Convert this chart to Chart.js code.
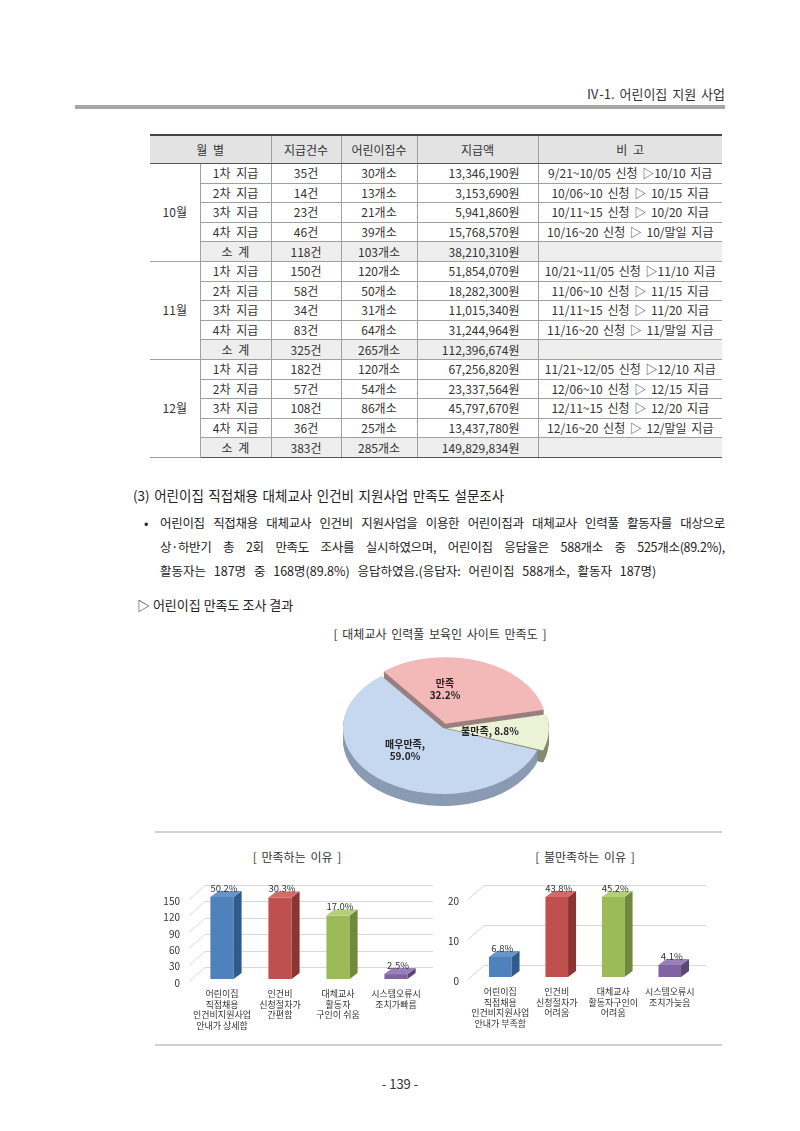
<!DOCTYPE html>
<html><head><meta charset="utf-8">
<script src="https://cdn.jsdelivr.net/npm/chart.js@4.4.0/dist/chart.umd.min.js"></script>
<style>
html,body{margin:0;padding:0;background:#fff;}
body{width:800px;height:1131px;position:relative;overflow:hidden;font-family:"Noto Sans CJK KR","Noto Sans",sans-serif;color:#222;}
.abs{position:absolute;white-space:nowrap;}
#tbl{position:absolute;left:150px;top:134px;width:572px;border-collapse:collapse;table-layout:fixed;font-size:12px;color:#333;word-spacing:3px;}
#tbl td,#tbl th{padding:0;border:1px solid #a0a0a0;text-align:center;font-weight:normal;overflow:hidden;white-space:nowrap;line-height:16px;}
#tbl th{background:#e3e3e3;height:27px;border-top:2px solid #444;border-bottom:1px solid #555;}
#tbl tr.d td{height:18.6px;}
#tbl td.amt{text-align:right;padding-right:18px;}
#tbl td.note{text-align:center;word-spacing:2px;}
#tbl tr.sub td.g{background:#eeeeee;}
#tbl tr.first td{border-top:1px solid #555;}
#tbl tr.last td{border-bottom:1px solid #555;}
#tbl td.mon{border-left:none;}
#tbl th.l{border-left:none;}
#tbl td.note,#tbl th.r{border-right:none;}
.para{position:absolute;left:160px;width:565px;font-size:12.5px;line-height:18px;color:#222;}
.just{text-align:justify;text-align-last:justify;letter-spacing:-0.3px;}
canvas{position:absolute;}
</style></head>
<body>
<div class="abs" style="right:75px;top:84px;font-size:13px;color:#333;word-spacing:2px;">Ⅳ-1. 어린이집 지원 사업</div>
<div class="abs" style="left:75px;top:105px;width:650px;height:4px;background:#a6a6a6;"></div>

<table id="tbl">
<colgroup><col style="width:50px"><col style="width:71px"><col style="width:70px"><col style="width:76px"><col style="width:121px"><col style="width:184px"></colgroup>
<thead><tr><th class="l" colspan="2">월 별</th><th>지급건수</th><th>어린이집수</th><th>지급액</th><th class="r">비 고</th></tr></thead>
<tbody id="tb"></tbody>
</table>

<div class="abs" style="left:133px;top:485px;font-size:13.5px;color:#222;word-spacing:1.5px;">(3) 어린이집 직접채용 대체교사 인건비 지원사업 만족도 설문조사</div>
<div class="abs" style="left:144px;top:513px;font-size:13px;">•</div>
<div class="para just" style="top:514px;">어린이집 직접채용 대체교사 인건비 지원사업을 이용한 어린이집과 대체교사 인력풀 활동자를 대상으로</div>
<div class="para just" style="top:538px;">상·하반기 총 2회 만족도 조사를 실시하였으며, 어린이집 응답율은 588개소 중 525개소(89.2%),</div>
<div class="para" style="top:562px;word-spacing:5px;">활동자는 187명 중 168명(89.8%) 응답하였음.(응답자: 어린이집 588개소, 활동자 187명)</div>
<div class="abs" style="left:137px;top:595px;font-size:13px;color:#222;">▷ 어린이집 만족도 조사 결과</div>

<div class="abs" style="left:440px;top:625px;transform:translateX(-50%);font-size:12px;color:#333;word-spacing:2px;">[ 대체교사 인력풀 보육인 사이트 만족도 ]</div>

<div class="abs" style="left:155px;top:831px;width:567px;height:2px;background:#d0d0d0;"></div>
<div class="abs" style="left:155px;top:1044px;width:567px;height:2px;background:#d0d0d0;"></div>

<div class="abs" style="left:297px;top:848px;transform:translateX(-50%);font-size:12px;color:#333;word-spacing:2px;">[ 만족하는 이유 ]</div>
<div class="abs" style="left:585px;top:848px;transform:translateX(-50%);font-size:12px;color:#333;word-spacing:2px;">[ 불만족하는 이유 ]</div>

<div class="abs" style="left:400px;top:1074px;transform:translateX(-50%);font-size:13px;color:#333;">- 139 -</div>

<canvas id="pie" width="240" height="240" style="left:323px;top:608px;width:240px;height:240px;"></canvas>
<canvas id="bar1" width="290" height="175" style="left:150px;top:870px;width:290px;height:175px;"></canvas>
<canvas id="bar2" width="285" height="175" style="left:445px;top:870px;width:285px;height:175px;"></canvas>

<script>
// ---- table data ----
const months = ['10월', '11월', '12월'];
const rowLabels = ['1차 지급', '2차 지급', '3차 지급', '4차 지급', '소 계'];
const payCounts = [
  ['35건', '14건', '23건', '46건', '118건'],
  ['150건', '58건', '34건', '83건', '325건'],
  ['182건', '57건', '108건', '36건', '383건']
];
const centerCounts = [
  ['30개소', '13개소', '21개소', '39개소', '103개소'],
  ['120개소', '50개소', '31개소', '64개소', '265개소'],
  ['120개소', '54개소', '86개소', '25개소', '285개소']
];
const payAmounts = [
  ['13,346,190원', '3,153,690원', '5,941,860원', '15,768,570원', '38,210,310원'],
  ['51,854,070원', '18,282,300원', '11,015,340원', '31,244,964원', '112,396,674원'],
  ['67,256,820원', '23,337,564원', '45,797,670원', '13,437,780원', '149,829,834원']
];
const notes = [
  ['9/21~10/05 신청 ▷10/10 지급', '10/06~10 신청 ▷ 10/15 지급', '10/11~15 신청 ▷ 10/20 지급', '10/16~20 신청 ▷ 10/말일 지급', ''],
  ['10/21~11/05 신청 ▷11/10 지급', '11/06~10 신청 ▷ 11/15 지급', '11/11~15 신청 ▷ 11/20 지급', '11/16~20 신청 ▷ 11/말일 지급', ''],
  ['11/21~12/05 신청 ▷12/10 지급', '12/06~10 신청 ▷ 12/15 지급', '12/11~15 신청 ▷ 12/20 지급', '12/16~20 신청 ▷ 12/말일 지급', '']
];

// ---- pie data ----
const pieLabels = ['만족', '불만족', '매우만족'];
const pieValues = [32.2, 8.8, 59.0];

// ---- bar data ----
const satCategories = [['어린이집', '직접채용', '인건비지원사업', '안내가 상세함'], ['인건비', '신청절차가', '간편함'], ['대체교사', '활동자', '구인이 쉬움'], ['시스템오류시', '조치가빠름']];
const satValues = [150, 149, 116, 9];
const satPercents = ['50.2%', '30.3%', '17.0%', '2.5%'];
const satTicks = [0, 30, 60, 90, 120, 150];

const dissatCategories = [['어린이집', '직접채용', '인건비지원사업', '안내가 부족함'], ['인건비', '신청절차가', '어려움'], ['대체교사', '활동자구인이', '어려움'], ['시스템오류시', '조치가늦음']];
const dissatValues = [5, 20, 20, 3];
const dissatPercents = ['6.8%', '43.8%', '45.2%', '4.1%'];
const dissatTicks = [0, 10, 20];

// ---- build table ----
const tb = document.getElementById('tb');
months.forEach((m, mi) => {
  rowLabels.forEach((rl, ri) => {
    const tr = document.createElement('tr');
    tr.className = 'd' + (ri === 0 ? ' first' : '') + (ri === 4 ? ' sub' : '') + (mi === months.length - 1 && ri === 4 ? ' last' : '');
    let html = '';
    if (ri === 0) html += '<td class="mon" rowspan="5">' + m + '</td>';
    html += '<td class="g">' + rl + '</td><td class="g">' + payCounts[mi][ri] + '</td><td class="g">' + centerCounts[mi][ri] +
      '</td><td class="g amt">' + payAmounts[mi][ri] + '</td><td class="g note">' + notes[mi][ri] + '</td>';
    tr.innerHTML = html;
    tb.appendChild(tr);
  });
});

const FONT = '"Noto Sans CJK KR", "Noto Sans", sans-serif';

// ---- 3D pie plugin ----
const pie3d = {
  id: 'pie3d',
  beforeDatasetsDraw(chart, args, o) {
    const ctx = chart.ctx;
    const meta = chart.getDatasetMeta(0);
    const cx = meta.data[0].x, cy = meta.data[0].y;
    ctx.save();
    ctx.translate(cx, cy); ctx.scale(1, o.squash); ctx.translate(-cx, -cy);
    for (let d = o.depth; d > 0; d--) {
      ctx.save();
      ctx.translate(0, d / o.squash);
      meta.data.forEach((arc, i) => {
        const bg = arc.options.backgroundColor, bc = arc.options.borderColor;
        arc.options.backgroundColor = o.side[i];
        arc.options.borderColor = o.side[i];
        arc.draw(ctx);
        arc.options.backgroundColor = bg;
        arc.options.borderColor = bc;
      });
      ctx.restore();
    }
  },
  afterDatasetsDraw(chart, args, o) {
    const ctx = chart.ctx;
    ctx.restore();
    const meta = chart.getDatasetMeta(0);
    const cx = meta.data[0].x, cy = meta.data[0].y;
    ctx.save();
    ctx.fillStyle = '#222';
    ctx.font = 'bold 10px ' + FONT;
    ctx.textAlign = 'center';
    ctx.textBaseline = 'middle';
    const labels = chart.data.labels, vals = chart.data.datasets[0].data;
    labels.forEach((lab, i) => {
      const pct = vals[i].toFixed(1) + '%';
      const [dx, dy] = o.labelPos[i];
      const lines = o.twoLine[i] ? [o.twoLine[i] === 2 ? lab + ',' : lab, pct] : [lab + ', ' + pct];
      lines.forEach((t, k) => {
        ctx.fillText(t, cx + dx, cy + dy + (k - (lines.length - 1) / 2) * 12);
      });
    });
    ctx.restore();
  }
};

new Chart(document.getElementById('pie'), {
  type: 'pie',
  data: {
    labels: pieLabels,
    datasets: [{
      data: pieValues,
      backgroundColor: ['#f3b9b8', '#ebf2d6', '#c5d8f0'],
      borderColor: ['#d99a99', '#c9d1b3', '#a9bfdc'],
      borderWidth: 0,
      offset: [28, 16, 0]
    }]
  },
  options: {
    responsive: false,
    animation: false,
    rotation: -38,
    layout: { padding: 6 },
    plugins: {
      legend: { display: false },
      tooltip: { enabled: false },
      pie3d: {
        squash: 0.66,
        depth: 12,
        side: ['#9b7f7f', '#858a73', '#8a9bb3'],
        labelPos: [[2, -39], [47, 3], [-38, 22]],
        twoLine: [1, 0, 2]
      }
    }
  },
  plugins: [pie3d]
});

// ---- 3D bar plugin ----
const bar3d = {
  id: 'bar3d',
  beforeDatasetsDraw(chart, args, o) {
    const ctx = chart.ctx, ys = chart.scales.y, ca = chart.chartArea;
    ctx.save();
    ctx.strokeStyle = '#d9d9d9';
    ctx.lineWidth = 1;
    ys.ticks.forEach(t => {
      const y = Math.round(ys.getPixelForValue(t.value)) + 0.5;
      ctx.beginPath();
      ctx.moveTo(ca.left - o.gx, y + 2);
      ctx.lineTo(ca.left + o.dx + 4, y - o.gy);
      ctx.lineTo(ca.right + o.dx, y - o.gy);
      ctx.stroke();
    });
    ctx.restore();
  },
  afterDatasetsDraw(chart, args, o) {
    const ctx = chart.ctx;
    const meta = chart.getDatasetMeta(0);
    ctx.save();
    meta.data.forEach((bar, i) => {
      const { x, y, base, width } = bar.getProps(['x', 'y', 'base', 'width'], true);
      const l = x - width / 2, r = x + width / 2;
      ctx.fillStyle = o.side[i];
      ctx.beginPath();
      ctx.moveTo(r, y); ctx.lineTo(r + o.dx, y - o.dy); ctx.lineTo(r + o.dx, base - o.dy); ctx.lineTo(r, base);
      ctx.closePath(); ctx.fill();
      ctx.fillStyle = o.top[i];
      ctx.beginPath();
      ctx.moveTo(l, y); ctx.lineTo(l + o.dx, y - o.dy); ctx.lineTo(r + o.dx, y - o.dy); ctx.lineTo(r, y);
      ctx.closePath(); ctx.fill();
      ctx.fillStyle = '#333';
      ctx.font = '9.5px ' + FONT;
      ctx.textAlign = 'center';
      ctx.textBaseline = 'middle';
      ctx.fillText(o.labels[i], x + 2, y - 9);
    });
    ctx.restore();
  }
};

function bar3dChart(id, cats, vals, pcts, ticks, geo) {
  new Chart(document.getElementById(id), {
    type: 'bar',
    data: {
      labels: cats,
      datasets: [{
        data: vals,
        backgroundColor: ['#4f81bd', '#c0504d', '#9bbb59', '#8064a2'],
        borderWidth: 0,
        barPercentage: geo.barPct,
        categoryPercentage: 1
      }]
    },
    options: {
      responsive: false,
      animation: false,
      layout: { padding: { top: geo.top, right: geo.right, left: 0, bottom: 0 } },
      plugins: {
        legend: { display: false },
        tooltip: { enabled: false },
        bar3d: {
          dx: 8, dy: 6, gx: geo.gx, gy: geo.gy,
          side: ['#2f5a8c', '#8c3432', '#6f8a3a', '#5b4579'],
          top: ['#6a94c9', '#d06b68', '#b3cf7a', '#9880b8'],
          labels: pcts
        }
      },
      scales: {
        x: {
          grid: { display: false, drawTicks: false, tickLength: 0 },
          border: { display: false },
          ticks: { color: '#333', font: { family: FONT, size: 9 }, padding: 9, maxRotation: 0, autoSkip: false },
          afterFit(s) { s.height = geo.xh; }
        },
        y: {
          min: 0, max: ticks[ticks.length - 1],
          grid: { display: false, drawTicks: false, tickLength: 0 },
          border: { display: false },
          afterBuildTicks(s) { s.ticks = ticks.map(v => ({ value: v })); },
          ticks: { color: '#333', font: { family: FONT, size: 10 }, padding: geo.ypad, labelOffset: 4 },
          afterFit(s) { s.width = geo.yw; }
        }
      }
    },
    plugins: [bar3d]
  });
}

bar3dChart('bar1', satCategories, satValues, satPercents, satTicks,
  { top: 27, right: 15, xh: 66, yw: 43, ypad: 13, barPct: 0.4, gx: 4, gy: 12 });
bar3dChart('bar2', dissatCategories, dissatValues, dissatPercents, dissatTicks,
  { top: 27, right: 32, xh: 68, yw: 27, ypad: 13, barPct: 0.4, gx: 4, gy: 12 });
</script>
</body></html>
